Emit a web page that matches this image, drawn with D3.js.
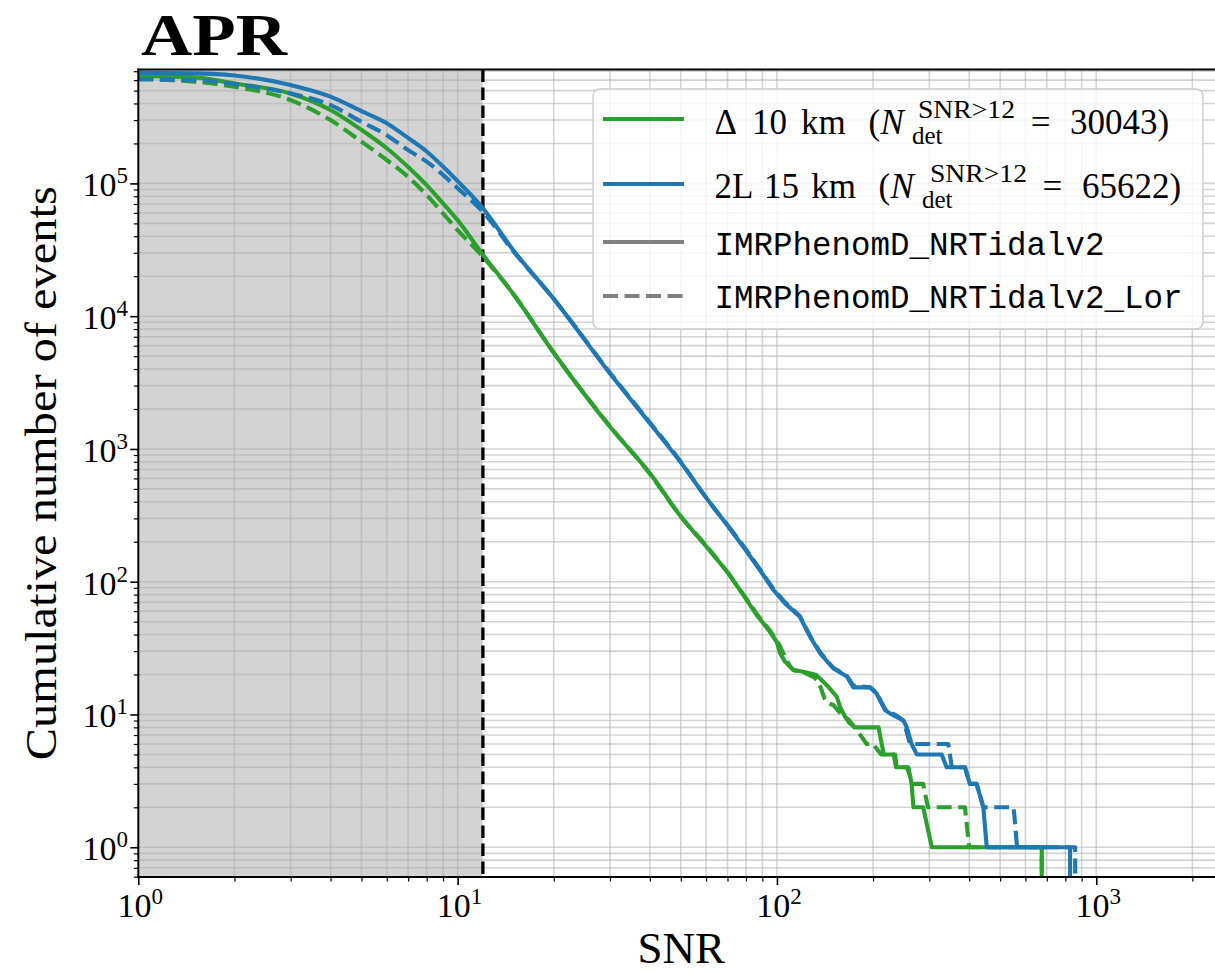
<!DOCTYPE html>
<html>
<head>
<meta charset="utf-8">
<script src="https://cdn.jsdelivr.net/npm/d3@7"></script>
<style>
  body { margin: 0; background: #fff; }
  svg { display: block; }
</style>
</head>
<body>
<svg id="chart" width="1215" height="974"></svg>
<script>
// cumulative number of events N(>SNR)
const delta10Snr = [1, 1.5, 2, 3, 4, 5, 6, 7, 8, 9, 10, 12, 15, 20, 30, 40, 50, 60, 70, 78.5, 86.5, 95, 99.8, 102.3, 106, 112.5, 121, 133, 143, 154, 157.6, 163.5, 169, 175.5, 208, 216, 234.5, 237, 258, 264, 267.6, 287, 305.5, 675, 675]
const delta10N = [6.46e5, 6.29e5, 5.66e5, 4.76e5, 3.57e5, 2.53e5, 1.84e5, 1.33e5, 9.7e4, 7.07e4, 5.29e4, 2.9e4, 1.45e4, 5.3e3, 1.47e3, 655, 310, 185, 118, 79.4, 56, 42, 35.3, 28.9, 25, 21.6, 21, 19.8, 16.7, 13.6, 11.4, 9.6, 8.6, 8, 8, 5, 5, 4, 4, 3, 2, 2, 1, 1, 0]

const delta10LorSnr = [1, 1.5, 2, 3, 4, 5, 6, 7, 8, 9, 10, 12, 15, 20, 30, 40, 50, 60, 70, 78.5, 86.5, 95, 99.8, 102, 106, 110, 113, 120, 131, 135, 141, 145, 150, 155, 160, 168, 181, 191, 200, 212, 232, 236, 255, 267, 287, 297, 388, 400, 675, 675]
const delta10LorN = [6.1e5, 5.83e5, 5.34e5, 4.24e5, 3.0e5, 2.06e5, 1.5e5, 1.12e5, 8.17e4, 5.94e4, 4.45e4, 2.8e4, 1.45e4, 5.3e3, 1.48e3, 650, 310, 187, 118, 80, 57, 43, 36, 33, 27, 23, 21.5, 21, 19, 17.7, 13.2, 12.1, 11.8, 10.8, 9.9, 9.1, 7.2, 6, 6, 5, 5, 4, 4, 3, 3, 2, 2, 1, 1, 0]

const l2Snr = [1, 1.5, 2, 3, 4, 5, 6, 7, 8, 9, 10, 12, 15, 20, 30, 40, 50, 60, 70, 80, 88.5, 97.5, 106, 118, 127, 136.5, 150, 165.6, 173.5, 195.8, 205, 218, 226, 237, 249, 255, 264, 274, 328, 340, 388, 402, 422, 443, 454, 828, 828]
const l2N = [6.8e5, 6.74e5, 6.5e5, 5.5e5, 4.5e5, 3.5e5, 2.84e5, 2.2e5, 1.74e5, 1.34e5, 1.04e5, 6.5e4, 3.1e4, 1.35e4, 3.7e3, 1.56e3, 790, 430, 265, 172, 122, 86.6, 68.7, 54.5, 38.5, 28.9, 22.3, 19.3, 16, 16, 14.4, 10.8, 10.2, 9.6, 9, 8, 6, 5, 5, 4, 4, 3, 3, 2, 1, 1, 0]

const l2LorSnr = [1, 1.5, 2, 3, 4, 5, 6, 7, 8, 9, 10, 12, 15, 20, 30, 40, 50, 60, 70, 80, 88.5, 97.5, 106, 118, 127, 136.5, 150, 165.6, 173.5, 195.8, 205, 218, 226, 237, 249, 261, 344, 353, 388, 402, 422, 443, 551, 565, 859, 859]
const l2LorN = [6.1e5, 6.0e5, 5.6e5, 4.76e5, 3.89e5, 2.91e5, 2.31e5, 1.78e5, 1.46e5, 1.16e5, 9.2e4, 6.1e4, 3.05e4, 1.35e4, 3.75e3, 1.58e3, 800, 430, 268, 175, 124, 88, 70, 55, 39, 29.5, 22.5, 19.5, 16.5, 16, 14.6, 11, 10.4, 9.8, 9, 6, 6, 4, 4, 3, 3, 2, 2, 1, 1, 0]

const snrCut = 12
const xMajor = [1, 10, 100, 1000]
const yMajor = [1, 10, 100, 1000, 10000, 100000]

const GREEN = '#2ca02c'
const BLUE = '#1f77b4'
const serif = '"Liberation Serif", "DejaVu Serif", serif'
const mono = '"Liberation Mono", "DejaVu Sans Mono", monospace'

const svg = d3.select('#chart')

const xL = 138.3, xR = 1224, yT = 69.5, yB = 877

const x = d3.scaleLog().domain([1, 2512]).range([xL, xR])
const y = d3.scaleLog().domain([0.597, 7.21e5]).range([yB, yT])

// all 1..9 x 10^k values inside [lo, hi]
const logTicks = (lo, hi) => {
  const out = []
  for (let d = 0.1; d <= hi; d *= 10) {
    for (let m = 1; m <= 9; m++) {
      const v = +(d * m).toPrecision(3)
      if (v >= lo && v <= hi) out.push(v)
    }
  }
  return out
}
const xAll = logTicks(1, 2512)
const yAll = logTicks(0.597, 7.21e5)
const xMinor = xAll.filter((v) => !xMajor.includes(v))
const yMinor = yAll.filter((v) => !yMajor.includes(v))

svg.append('defs').append('clipPath').attr('id', 'plotClip')
  .append('rect')
  .attr('x', xL).attr('y', yT)
  .attr('width', xR - xL).attr('height', yB - yT)

const plot = svg.append('g').attr('clip-path', 'url(#plotClip)')

// shaded region below the SNR cut
plot.append('rect')
  .attr('x', x(1)).attr('y', yT)
  .attr('width', x(snrCut) - x(1)).attr('height', yB - yT)
  .attr('fill', '#d3d3d3')

// grid (major + minor)
const grid = plot.append('g')
  .attr('stroke', '#b0b0b0').attr('stroke-opacity', 0.55).attr('stroke-width', 1.6)
grid.selectAll('line.gx').data(xAll).join('line')
  .attr('class', 'gx')
  .attr('x1', (d) => x(d)).attr('x2', (d) => x(d))
  .attr('y1', yT).attr('y2', yB)
grid.selectAll('line.gy').data(yAll).join('line')
  .attr('class', 'gy')
  .attr('x1', xL).attr('x2', xR)
  .attr('y1', (d) => y(d)).attr('y2', (d) => y(d))

// detection threshold
plot.append('line')
  .attr('x1', x(snrCut)).attr('x2', x(snrCut))
  .attr('y1', yT).attr('y2', yB)
  .attr('stroke', '#000').attr('stroke-width', 3.3)
  .attr('stroke-dasharray', '12.5,5.5')

const series = [
  { snr: delta10Snr, n: delta10N, color: GREEN, dash: null },
  { snr: delta10LorSnr, n: delta10LorN, color: GREEN, dash: '15,6.5' },
  { snr: l2Snr, n: l2N, color: BLUE, dash: null },
  { snr: l2LorSnr, n: l2LorN, color: BLUE, dash: '15,6.5' }
]

// smooth body, then the step-like tail drawn straight
const smoothEnd = 70
const bodyLine = d3.line()
  .x((d) => x(d[0]))
  .y((d) => y(d[1]))
  .curve(d3.curveMonotoneX)
const tailLine = d3.line()
  .x((d) => x(d[0]))
  .y((d) => (d[1] > 0 ? y(d[1]) : yB + 30))

series.forEach((s) => {
  const pts = s.snr.map((v, i) => [v, s.n[i]])
  const parts = [
    [pts.filter((p) => p[0] <= smoothEnd), bodyLine],
    [pts.filter((p) => p[0] >= smoothEnd), tailLine]
  ]
  parts.forEach(([data, gen]) => {
    plot.append('path')
      .datum(data)
      .attr('d', gen)
      .attr('fill', 'none')
      .attr('stroke', s.color)
      .attr('stroke-width', 4.1)
      .attr('stroke-linejoin', 'round')
      .attr('stroke-dasharray', s.dash)
  })
})

// axes
const xAxisMajor = d3.axisBottom(x).tickValues(xMajor).tickSize(8).tickFormat(() => '')
const xAxisMinor = d3.axisBottom(x).tickValues(xMinor).tickSize(4.5).tickFormat(() => '')
const yAxisMajor = d3.axisLeft(y).tickValues(yMajor).tickSize(8).tickFormat(() => '')
const yAxisMinor = d3.axisLeft(y).tickValues(yMinor).tickSize(4.5).tickFormat(() => '')

const gx = svg.append('g').attr('transform', `translate(0,${yB})`)
gx.append('g').call(xAxisMajor).call((g) => g.selectAll('.tick line').attr('stroke-width', 1.6))
gx.append('g').call(xAxisMinor).call((g) => g.selectAll('.tick line').attr('stroke-width', 1.2))
const gy = svg.append('g').attr('transform', `translate(${xL},0)`)
gy.append('g').call(yAxisMajor).call((g) => g.selectAll('.tick line').attr('stroke-width', 1.6))
gy.append('g').call(yAxisMinor).call((g) => g.selectAll('.tick line').attr('stroke-width', 1.2))
svg.selectAll('.domain').remove()

// spines
const spines = svg.append('g').attr('stroke', '#000').attr('stroke-width', 2).attr('fill', 'none')
spines.append('line').attr('x1', xL).attr('x2', xL).attr('y1', yT - 1).attr('y2', yB + 1)
spines.append('line').attr('x1', xL - 1).attr('x2', xR).attr('y1', yB).attr('y2', yB)
spines.append('line').attr('x1', xL - 1).attr('x2', xR).attr('y1', yT).attr('y2', yT)

// tick labels 10^k
const powLabel = (sel, v) => {
  const k = Math.round(Math.log10(v))
  sel.append('tspan').text('10')
  sel.append('tspan').attr('font-size', 23).attr('dy', -13).text(k)
}
xMajor.forEach((v) => {
  svg.append('text')
    .attr('x', x(v) + 2).attr('y', 917)
    .attr('text-anchor', 'middle')
    .attr('font-family', serif).attr('font-size', 34)
    .call(powLabel, v)
})
yMajor.forEach((v) => {
  svg.append('text')
    .attr('x', 128).attr('y', y(v) + 13)
    .attr('text-anchor', 'end')
    .attr('font-family', serif).attr('font-size', 34)
    .call(powLabel, v)
})

// axis labels and title
svg.append('text')
  .attr('x', (xL + xR) / 2).attr('y', 963)
  .attr('text-anchor', 'middle')
  .attr('font-family', serif).attr('font-size', 45)
  .text('SNR')
svg.append('text')
  .attr('transform', `translate(56,${(yT + yB) / 2}) rotate(-90)`)
  .attr('text-anchor', 'middle')
  .attr('font-family', serif).attr('font-size', 44)
  .attr('textLength', 574).attr('lengthAdjust', 'spacingAndGlyphs')
  .text('Cumulative number of events')
svg.append('text')
  .attr('x', 141).attr('y', 55)
  .attr('font-family', serif).attr('font-size', 60).attr('font-weight', 'bold')
  .attr('textLength', 146).attr('lengthAdjust', 'spacingAndGlyphs')
  .text('APR')

// legend
const legend = svg.append('g')
legend.append('rect')
  .attr('x', 593).attr('y', 89).attr('width', 610).attr('height', 240)
  .attr('rx', 7)
  .attr('fill', '#fff').attr('fill-opacity', 0.8)
  .attr('stroke', '#cccccc').attr('stroke-width', 1.4)

const handles = [
  { y: 119, color: GREEN, dash: null },
  { y: 184, color: BLUE, dash: null },
  { y: 242, color: '#808080', dash: null },
  { y: 296, color: '#808080', dash: '15,6.5' }
]
handles.forEach((h) => {
  legend.append('line')
    .attr('x1', 603).attr('x2', 684).attr('y1', h.y).attr('y2', h.y)
    .attr('stroke', h.color).attr('stroke-width', 4.1)
    .attr('stroke-dasharray', h.dash)
})

const piece = (p, base) => {
  const t = legend.append('text')
    .attr('x', p.x).attr('y', base + (p.dy || 0))
    .attr('font-family', serif).attr('font-size', p.size || 35)
    .attr('font-style', p.italic ? 'italic' : null)
    .text(p.t)
  if (p.w) t.attr('textLength', p.w).attr('lengthAdjust', 'spacingAndGlyphs')
}
const row1 = [
  { t: 'Δ', x: 714.5 }, { t: '10', x: 752 }, { t: 'km', x: 801 }, { t: '(', x: 868.6 },
  { t: 'N', x: 880.5, italic: true },
  { t: 'SNR>12', x: 918, size: 25, dy: -16, w: 97 },
  { t: 'det', x: 912, size: 25, dy: 10 },
  { t: '=', x: 1030.7 }, { t: '30043)', x: 1070 }
]
const row2 = [
  { t: '2L', x: 714.5 }, { t: '15', x: 764 }, { t: 'km', x: 811.3 }, { t: '(', x: 878.5 },
  { t: 'N', x: 890.4, italic: true },
  { t: 'SNR>12', x: 930, size: 25, dy: -16, w: 97 },
  { t: 'det', x: 922, size: 25, dy: 10 },
  { t: '=', x: 1042.6 }, { t: '65622)', x: 1082 }
]
row1.forEach((p) => piece(p, 134.3))
row2.forEach((p) => piece(p, 197.7))

legend.append('text')
  .attr('x', 714.5).attr('y', 255)
  .attr('font-family', mono).attr('font-size', 32.5)
  .text('IMRPhenomD_NRTidalv2')
legend.append('text')
  .attr('x', 714.5).attr('y', 308.3)
  .attr('font-family', mono).attr('font-size', 32.5)
  .text('IMRPhenomD_NRTidalv2_Lor')
</script>
</body>
</html>
